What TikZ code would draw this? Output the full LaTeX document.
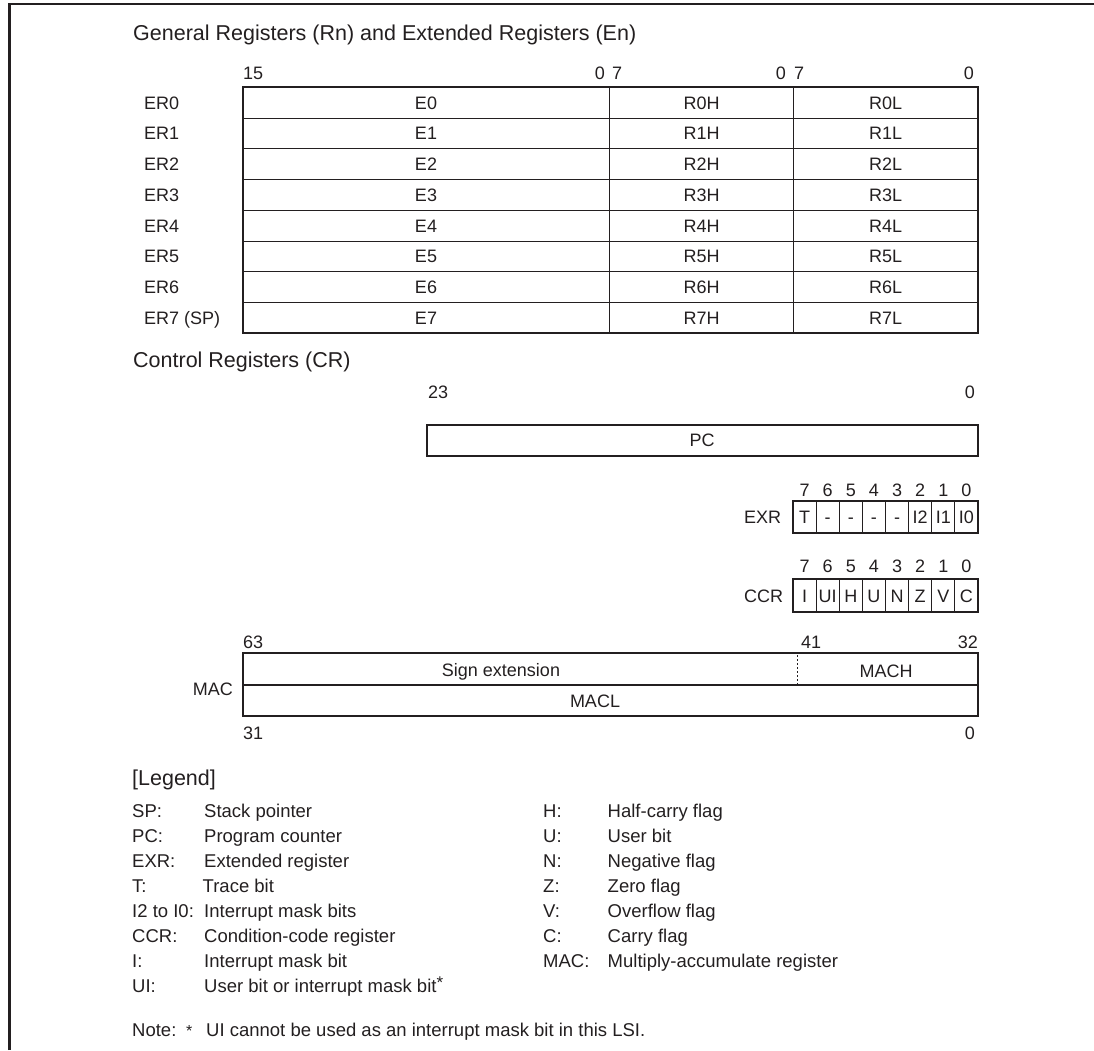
\documentclass[tikz,border=0pt]{standalone}
\usepackage{fontspec}
\setmainfont{Liberation Sans}
\definecolor{ink}{HTML}{231F20}
\begin{document}
\begin{tikzpicture}[x=1pt,y=-1pt,
  every node/.style={inner sep=0pt, text=ink},
  ttl/.style={anchor=base west, font=\fontsize{21.5}{24}\selectfont},
  lg/.style={anchor=base west, font=\fontsize{18.5}{22}\selectfont},
  dg/.style={anchor=base, font=\fontsize{18}{21}\selectfont},
  dgw/.style={dg, anchor=base west},
  dge/.style={dg, anchor=base east},
  regbox/.style={draw=ink, line width=2pt},
  divline/.style={draw=ink, line width=0.9pt},
]
\useasboundingbox (0,0) rectangle (1094,1050);
% frame
\draw[ink, line width=2.6pt] (9.5,1050) -- (9.5,4) -- (1094,4);

% ---- General registers
\node[ttl] (gtitle) at (133,40) {General Registers (Rn) and Extended Registers (En)};
\node[dgw] (b15) at (243,79.5) {15};
\node[dge] (b0a) at (605,79.5) {0};
\node[dgw] (b7a) at (612,79.5) {7};
\node[dge] (b0b) at (786,79.5) {0};
\node[dgw] (b7b) at (794,79.5) {7};
\node[dge] (b0c) at (974,79.5) {0};

\foreach \i in {1,...,7}
  \draw[divline] (243,87.3+\i*30.75) -- (978,87.3+\i*30.75);
\draw[divline] (609.5,87.3) -- (609.5,333.3);
\draw[divline] (793.5,87.3) -- (793.5,333.3);
\draw[regbox] (243,87.3) rectangle (978,333.3);

\foreach \i/\n in {0/{ER0},1/{ER1},2/{ER2},3/{ER3},4/{ER4},5/{ER5},6/{ER6},7/{ER7 (SP)}}{
  \node[dgw] (er\i) at (144,109.2+\i*30.75) {\n};
  \node[dg] (e\i) at (426,109.2+\i*30.75) {E\i};
  \node[dg] (rh\i) at (701.5,109.2+\i*30.75) {R\i H};
  \node[dg] (rl\i) at (885.7,109.2+\i*30.75) {R\i L};
}

% ---- Control registers
\node[ttl] (ctitle) at (133,367) {Control Registers (CR)};
\node[dgw] (b23) at (428,398) {23};
\node[dge] (bpc0) at (975,398) {0};
\draw[regbox] (427,424.5) rectangle (977.5,456);
\node[dg] (pc) at (702,446.5) {PC};

% EXR
\node[dgw] (exr) at (744,523.5) {EXR};
\foreach \k in {1,...,7}
  \draw[divline] (793+\k*23.125,501) -- (793+\k*23.125,533.3);
\draw[regbox] (793,501) rectangle (978,533.3);
\foreach \k/\t in {0/T,1/-,2/-,3/-,4/-,5/I2,6/I1,7/I0}{
  \pgfmathtruncatemacro\bit{7-\k}
  \node[dg] (xb\k) at (793+23.125*\k+11.56,496) {\bit};
  \node[dg] (xc\k) at (793+23.125*\k+11.56,523.5) {\t};
}

% CCR
\node[dgw] (ccr) at (744,602.2) {CCR};
\foreach \k in {1,...,7}
  \draw[divline] (793+\k*23.125,579.3) -- (793+\k*23.125,612);
\draw[regbox] (793,579.3) rectangle (978,612);
\foreach \k/\t in {0/I,1/UI,2/H,3/U,4/N,5/Z,6/V,7/C}{
  \pgfmathtruncatemacro\bit{7-\k}
  \node[dg] (cb\k) at (793+23.125*\k+11.56,572) {\bit};
  \node[dg] (cc\k) at (793+23.125*\k+11.56,602.2) {\t};
}

% MAC
\node[dgw] (b63) at (243,648) {63};
\node[dg] (b41) at (811,648) {41};
\node[dge] (b32) at (978,648) {32};
\node[dgw] (b31) at (243,739) {31};
\node[dge] (bm0) at (975,739) {0};
\draw[regbox] (243,653.3) rectangle (978,685);
\draw[regbox] (243,685) rectangle (978,716);
\draw[ink, line width=1pt, dash pattern=on 2pt off 2pt] (797,655) -- (797,684);
\node[dge] (mac) at (233,695) {MAC};
\node[dg] (sext) at (501,676.5) {Sign extension};
\node[dg] (mach) at (886,677) {MACH};
\node[dg] (macl) at (595,707.5) {MACL};

% ---- Legend
\node[ttl] (legend) at (132,785) {[Legend]};
\foreach \k/\a/\b in {0/{SP:}/{Stack pointer},1/{PC:}/{Program counter},2/{EXR:}/{Extended register},4/{I2 to I0:}/{Interrupt mask bits},5/{CCR:}/{Condition-code register},6/{I:}/{Interrupt mask bit}}{
  \node[lg] (lgl\k) at (132,817+25*\k) {\a};
  \node[lg] (lgd\k) at (204,817+25*\k) {\b};
}
\node[lg] (lgl3) at (132,892) {T:};
\node[lg] (lgd3) at (202.5,892) {Trace bit};
\node[lg] (lgl7) at (132,992) {UI:};
\node[lg] (lgd7) at (204,992) {User bit or interrupt mask bit\raisebox{3.5pt}{\fontsize{17}{17}\selectfont*}};
\foreach \k/\a/\b in {0/{H:}/{Half-carry flag},1/{U:}/{User bit},2/{N:}/{Negative flag},3/{Z:}/{Zero flag},4/{V:}/{Overflow flag},5/{C:}/{Carry flag},6/{MAC:}/{Multiply-accumulate register}}{
  \node[lg] (lgr\k) at (543,817+25*\k) {\a};
  \node[lg] (lgs\k) at (607.5,817+25*\k) {\b};
}
\node[lg] (note) at (132,1036.5) {Note:};
\node[lg, font=\fontsize{16}{16}\selectfont] (star) at (186,1036.5) {*};
\node[lg] (notetext) at (206,1036.5) {UI cannot be used as an interrupt mask bit in this LSI.};
\end{tikzpicture}
\end{document}
